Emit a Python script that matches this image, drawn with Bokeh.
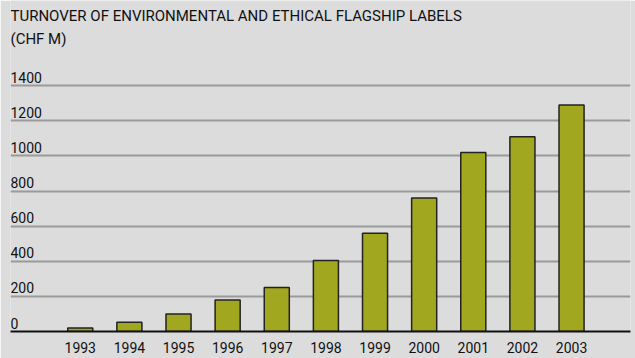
from bokeh.plotting import figure
from bokeh.models import Range1d, FixedTicker, Label, ColumnDataSource
from bokeh.embed import file_html
from bokeh.resources import INLINE
from bokeh.core.properties import value

title_line1 = "TURNOVER OF ENVIRONMENTAL AND ETHICAL FLAGSHIP LABELS"
title_line2 = "(CHF M)"
years = ["1993", "1994", "1995", "1996", "1997", "1998", "1999", "2000", "2001", "2002", "2003"]
turnover = [20, 53, 100, 180, 250, 405, 560, 760, 1020, 1110, 1290]
y_ticks = [0, 200, 400, 600, 800, 1000, 1200, 1400]

BG = "#dcdcdc"
FONT = "Roboto"
TXT = "#111111"
XSTART, XEND = -1.42, 11.2

xs = list(range(len(years)))
src = ColumnDataSource(dict(x=xs, top=turnover))

p = figure(width=635, height=358, output_backend="svg", toolbar_location=None,
           x_range=Range1d(XSTART, XEND), y_range=Range1d(0, 1886),
           min_border_left=10, min_border_right=5, min_border_top=0, min_border_bottom=27,
           background_fill_color=BG, border_fill_color=BG, outline_line_color=None,
           y_axis_location=None)

p.vbar(x="x", top="top", bottom=0, width=0.51, source=src,
       fill_color="#a1a71f", line_color="#222222", line_width=1.5)

p.xgrid.visible = False
p.ygrid.ticker = FixedTicker(ticks=[t for t in y_ticks if t > 0])
p.ygrid.grid_line_color = "#9a9a9a"
p.ygrid.grid_line_width = 2

ax = p.xaxis[0]
ax.ticker = FixedTicker(ticks=xs)
ax.major_label_overrides = {i: y for i, y in enumerate(years)}
ax.axis_line_color = "#111111"
ax.axis_line_width = 2
ax.major_tick_line_color = None
ax.minor_tick_line_color = None
ax.major_label_standoff = 4
ax.major_label_text_font = FONT
ax.major_label_text_font_size = "14px"
ax.major_label_text_color = TXT

p.text(x=[XSTART] * len(y_ticks), y=y_ticks, text=[str(t) for t in y_ticks],
       text_font=value(FONT), text_font_size="14px", text_color=TXT,
       text_baseline="bottom", text_align="left", y_offset=-3)

for txt, sy in [(title_line1, 307), (title_line2, 284)]:
    p.add_layout(Label(x=0, y=sy, x_units="screen", y_units="screen", text=txt,
                       text_font=FONT, text_font_size="15px", text_color=TXT,
                       text_font_style="normal"))

open("out.html", "w").write(file_html(p, INLINE))
